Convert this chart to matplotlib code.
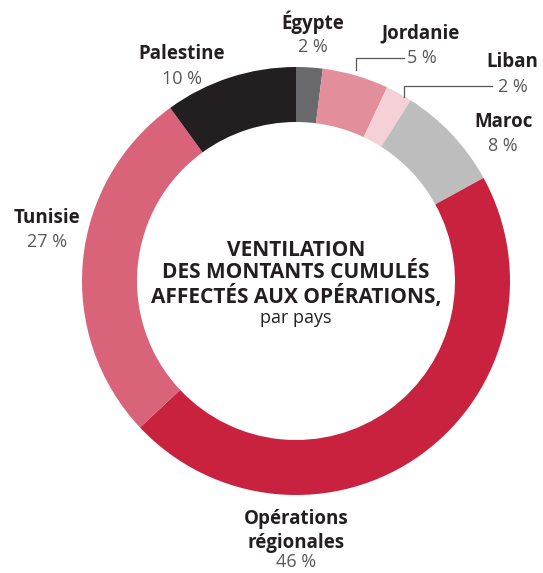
import matplotlib.pyplot as plt

pays = ["Égypte", "Jordanie", "Liban", "Maroc", "Opérations\nrégionales", "Tunisie", "Palestine"]
parts = [2, 5, 2, 8, 46, 27, 10]
couleurs = ["#69696b", "#e28f9b", "#f5d1d7", "#bdbdbd", "#c8223f", "#d9647a", "#231f20"]

W, H = 543, 573
fig = plt.figure(figsize=(W / 100, H / 100), dpi=100)
ax = fig.add_axes([0, 0, 1, 1])

cx, cy, r = 296, H - 281, 214
ax.pie(parts, colors=couleurs, startangle=90, counterclock=False,
       center=(cx, cy), radius=r, frame=True,
       wedgeprops=dict(width=55, linewidth=0))
ax.set_xlim(0, W)
ax.set_ylim(0, H)
ax.set_aspect("equal")
ax.axis("off")

plt.rcParams["font.family"] = ["Open Sans", "DejaVu Sans"]
nom_kw = dict(fontsize=13.5, fontweight="bold", color="#231f20", ha="center", va="center")
val_kw = dict(fontsize=13, color="#58585a", ha="center", va="center")

# positions des étiquettes (pixels depuis le haut)
pos = {
    "Égypte": (313, 22, 313, 47),
    "Jordanie": (421, 33, 422, 58),
    "Liban": (512, 62, 513, 87),
    "Maroc": (504, 122, 503, 146),
    "Palestine": (182, 54, 182, 79),
    "Tunisie": (47, 218, 47, 242),
}
for nom, p in zip(pays, parts):
    if nom in pos:
        x1, y1, x2, y2 = pos[nom]
        ax.text(x1, H - y1, nom, **nom_kw)
        ax.text(x2, H - y2, f"{p} %", **val_kw)
ax.text(296, H - 519, "Opérations", **nom_kw)
ax.text(296, H - 543, "régionales", **nom_kw)
ax.text(296, H - 562, f"{parts[4]} %", **val_kw)

# traits de rappel
ax.plot([356, 356, 404], [H - 70, H - 58, H - 58], color="#58585a", lw=0.9)
ax.plot([404, 404, 492], [H - 97, H - 86, H - 86], color="#58585a", lw=0.9)

titre = ["VENTILATION", "DES MONTANTS CUMULÉS", "AFFECTÉS AUX OPÉRATIONS,"]
for i, ligne in enumerate(titre):
    ax.text(296, H - (250 + 23 * i), ligne, fontsize=15, fontweight="bold",
            color="#231f20", ha="center", va="center")
ax.text(296, H - 318, "par pays", fontsize=13, color="#231f20", ha="center", va="center")

fig.savefig("out.png", dpi=100)
